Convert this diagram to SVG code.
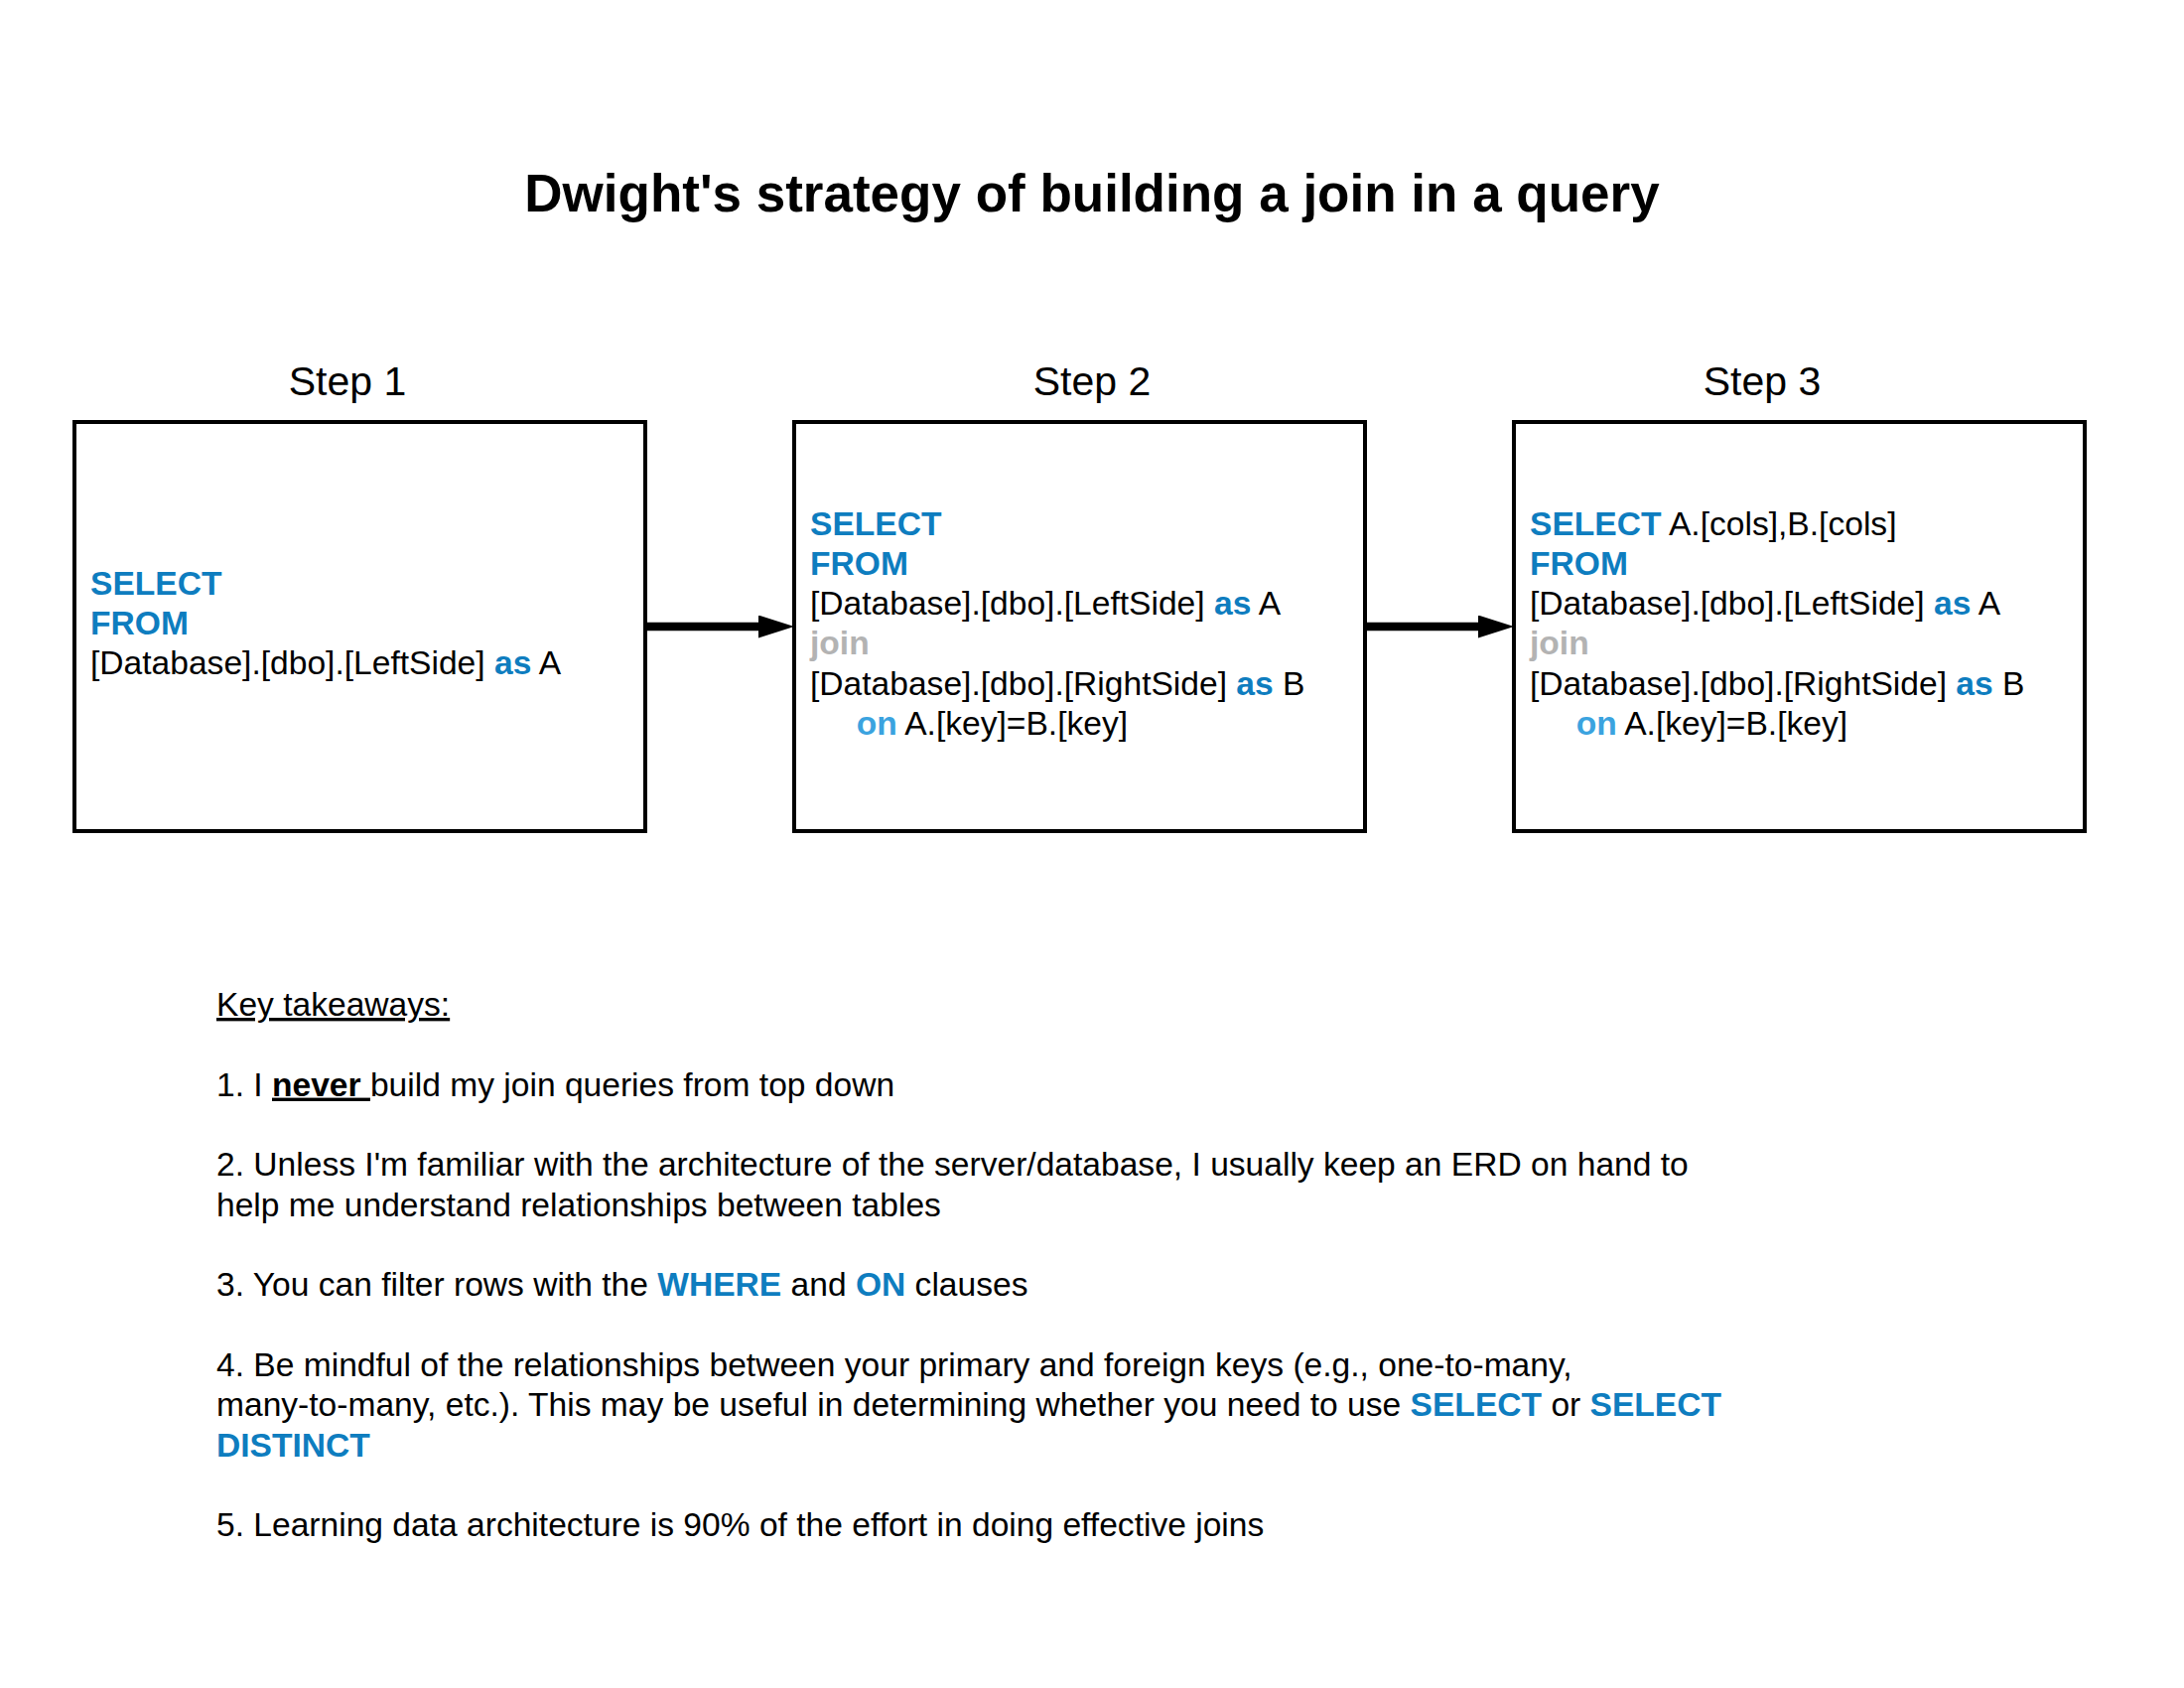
<svg xmlns="http://www.w3.org/2000/svg" width="2200" height="1700" viewBox="0 0 2200 1700">
<style>
text{font-family:"Liberation Sans",Arial,sans-serif;fill:#000}
.box{fill:#fff;stroke:#000;stroke-width:4}
.title{font-size:53px;font-weight:bold}
.step{font-size:41px}
.code{font-size:33.6px}
.kw{font-weight:bold;fill:#0E7DBF}
.on{font-weight:bold;fill:#3BA3DF}
.jn{font-weight:bold;fill:#B3B3B3}
.conn{stroke:#000;stroke-width:8.4;fill:none}
.body{font-size:33.6px}
.u{text-decoration:underline}
.b{font-weight:bold}
</style>
<defs>
<marker id="arrow" markerUnits="userSpaceOnUse" markerWidth="36" markerHeight="23" refX="6" refY="11.5" orient="auto">
<path d="M0,0 L36,11.5 L0,23 Z" fill="#000"/>
</marker>
</defs>
<rect width="2200" height="1700" fill="#fff"/>
<g id="title">
<text class="title" x="1100" y="213" text-anchor="middle">Dwight's strategy of building a join in a query</text>
</g>
<g id="step-labels">
<text class="step" x="350" y="398" text-anchor="middle">Step 1</text>
<text class="step" x="1100" y="398" text-anchor="middle">Step 2</text>
<text class="step" x="1775" y="398" text-anchor="middle">Step 3</text>
</g>
<g id="step1">
<rect class="box" x="75" y="425" width="575" height="412"/>
<text class="code" x="91" y="598.7"><tspan class="kw">SELECT</tspan></text>
<text class="code" x="91" y="639"><tspan class="kw">FROM</tspan></text>
<text class="code" x="91" y="679.3">[Database].[dbo].[LeftSide] <tspan class="kw">as</tspan> A</text>
</g>
<g id="step2">
<rect class="box" x="800" y="425" width="575" height="412"/>
<text class="code" x="816" y="538.5"><tspan class="kw">SELECT</tspan></text>
<text class="code" x="816" y="578.8"><tspan class="kw">FROM</tspan></text>
<text class="code" x="816" y="619.1">[Database].[dbo].[LeftSide] <tspan class="kw">as</tspan> A</text>
<text class="code" x="816" y="659.4"><tspan class="jn">join</tspan></text>
<text class="code" x="816" y="699.7">[Database].[dbo].[RightSide] <tspan class="kw">as</tspan> B</text>
<text class="code" x="862.7" y="740"><tspan class="on">on</tspan> A.[key]=B.[key]</text>
</g>
<g id="step3">
<rect class="box" x="1525" y="425" width="575" height="412"/>
<text class="code" x="1541" y="538.5"><tspan class="kw">SELECT</tspan> A.[cols],B.[cols]</text>
<text class="code" x="1541" y="578.8"><tspan class="kw">FROM</tspan></text>
<text class="code" x="1541" y="619.1">[Database].[dbo].[LeftSide] <tspan class="kw">as</tspan> A</text>
<text class="code" x="1541" y="659.4"><tspan class="jn">join</tspan></text>
<text class="code" x="1541" y="699.7">[Database].[dbo].[RightSide] <tspan class="kw">as</tspan> B</text>
<text class="code" x="1587.7" y="740"><tspan class="on">on</tspan> A.[key]=B.[key]</text>
</g>
<g id="connectors">
<line class="conn" x1="652" y1="631" x2="770" y2="631" marker-end="url(#arrow)"/>
<line class="conn" x1="1377" y1="631" x2="1495" y2="631" marker-end="url(#arrow)"/>
</g>
<g id="takeaways">
<text class="body" x="218" y="1023"><tspan class="u">Key takeaways:</tspan></text>
<text class="body" x="218" y="1103.6">1. I <tspan class="b u">never </tspan>build my join queries from top down</text>
<text class="body" x="218" y="1184.3">2. Unless I'm familiar with the architecture of the server/database, I usually keep an ERD on hand to</text>
<text class="body" x="218" y="1224.6">help me understand relationships between tables</text>
<text class="body" x="218" y="1305.3">3. You can filter rows with the <tspan class="kw">WHERE</tspan> and <tspan class="kw">ON</tspan> clauses</text>
<text class="body" x="218" y="1386">4. Be mindful of the relationships between your primary and foreign keys (e.g., one-to-many,</text>
<text class="body" x="218" y="1426.3">many-to-many, etc.). This may be useful in determining whether you need to use <tspan class="kw">SELECT</tspan> or <tspan class="kw">SELECT</tspan></text>
<text class="body" x="218" y="1466.6"><tspan class="kw">DISTINCT</tspan></text>
<text class="body" x="218" y="1547.2">5. Learning data architecture is 90% of the effort in doing effective joins</text>
</g>
</svg>
